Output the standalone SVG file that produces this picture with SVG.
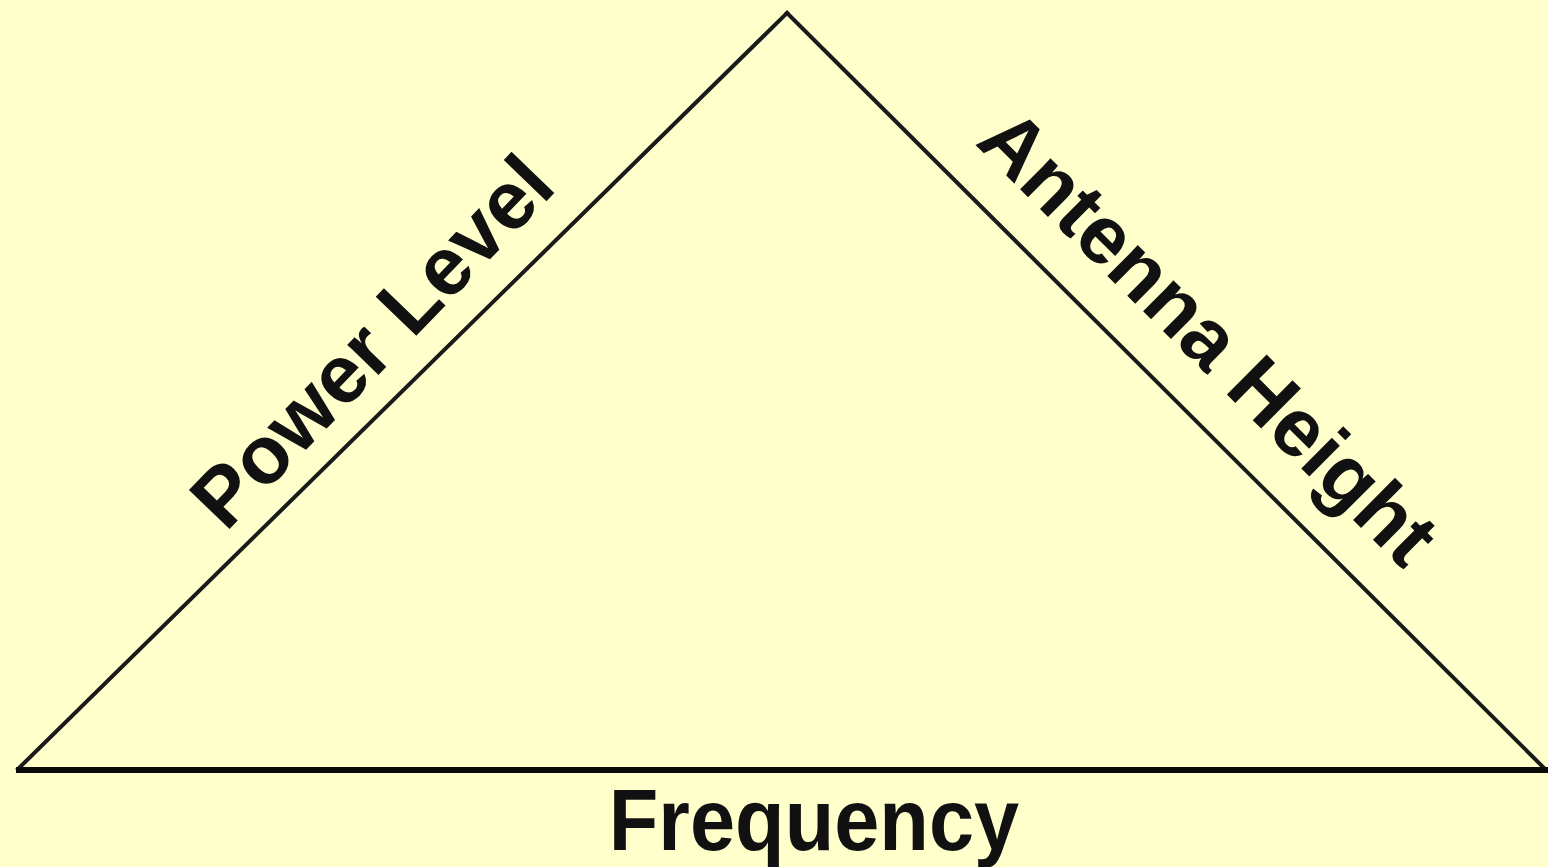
<svg xmlns="http://www.w3.org/2000/svg" width="1548" height="867" viewBox="0 0 1548 867">
  <style>
    .lbl { font-family: "Liberation Sans", Arial, sans-serif; font-weight: bold; font-size: 82px; fill: #111111; text-anchor: middle; }
    .side { stroke: #1a1a1a; stroke-width: 4; fill: none; stroke-linecap: square; }
    .base { stroke: #0a0a0a; stroke-width: 6; fill: none; }
  </style>
  <rect x="0" y="0" width="1548" height="867" fill="#FFFFCC"/>
  <g id="connectors">
    <line class="side" x1="18" y1="769" x2="787" y2="13"/>
    <line class="side" x1="787" y1="13" x2="1545" y2="769"/>
    <line class="base" x1="16" y1="770" x2="1548" y2="770"/>
  </g>
  <g id="power-level">
    <text class="lbl" transform="translate(392,361) rotate(-46)">Power Level</text>
  </g>
  <g id="antenna-height">
    <text class="lbl" transform="translate(1189,357) rotate(44.8)">Antenna Height</text>
  </g>
  <g id="frequency">
    <text class="lbl" transform="translate(814,850) scale(0.99,1.06)">Frequency</text>
  </g>
</svg>
